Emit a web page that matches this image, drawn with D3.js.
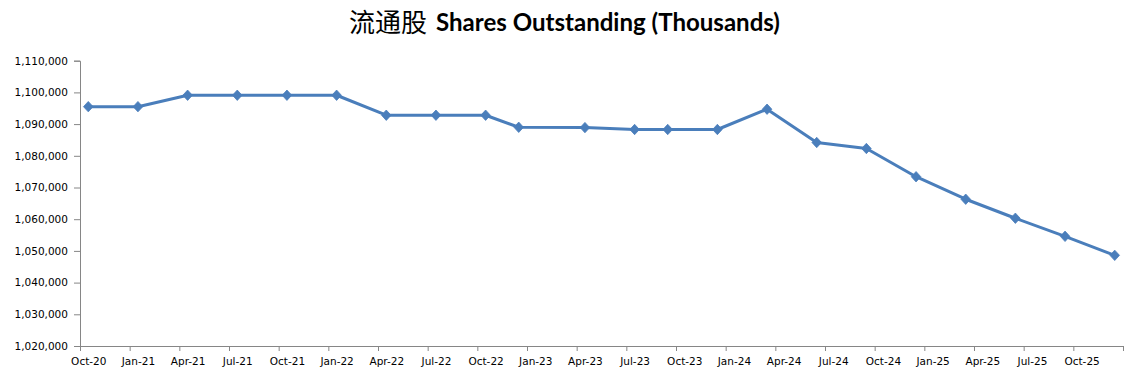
<!DOCTYPE html>
<html><head><meta charset="utf-8">
<script src="https://cdn.jsdelivr.net/npm/d3@7"></script>
<style>
html,body{margin:0;padding:0;background:#fff;}
</style></head>
<body>
<svg id="chart" width="1141" height="381"></svg>
<script>
// Data (month labels "Mon-YY")
const dates = ["Oct-20","Jan-21","Apr-21","Jul-21","Oct-21","Jan-22","Apr-22","Jul-22","Oct-22","Dec-22",
  "Apr-23","Jul-23","Sep-23","Dec-23","Mar-24","Jun-24","Sep-24","Dec-24","Mar-25","Jun-25","Sep-25","Dec-25"];
const shares = [1095500,1095500,1099100,1099100,1099100,1099100,1092800,1092800,1092800,1089000,
  1088900,1088300,1088300,1088300,1094700,1084200,1082300,1073400,1066300,1060300,1054600,1048600];
const xTickLabels = ["Oct-20","Jan-21","Apr-21","Jul-21","Oct-21","Jan-22","Apr-22","Jul-22","Oct-22","Jan-23",
  "Apr-23","Jul-23","Oct-23","Jan-24","Apr-24","Jul-24","Oct-24","Jan-25","Apr-25","Jul-25","Oct-25"];
const axisEnd = "Jan-26";
const yTicks = [1020000,1030000,1040000,1050000,1060000,1070000,1080000,1090000,1100000,1110000];
const titleCN = "流通股";
const titleEN = "Shares Outstanding (Thousands)";

const months = {Jan:0,Feb:1,Mar:2,Apr:3,May:4,Jun:5,Jul:6,Aug:7,Sep:8,Oct:9,Nov:10,Dec:11};
const mIdx = s => { const [m,yy] = s.split("-"); return (2000 + +yy) * 12 + months[m]; };

const svg = d3.select("#chart");
const mLeft = 80, mRight = 1123, mTop = 60.7, mBottom = 346;
const axisColor = "#868686";
const lineColor = "#4A7EBB";

const x = d3.scaleLinear().domain([mIdx(xTickLabels[0]), mIdx(axisEnd)]).range([mLeft, mRight]);
const y = d3.scaleLinear().domain([yTicks[0], yTicks[yTicks.length-1]]).range([mBottom, mTop]);

// Y axis
const yAxis = svg.append("g").attr("transform", `translate(${mLeft},0)`)
  .call(d3.axisLeft(y).tickValues(yTicks).tickFormat(d3.format(",")).tickSizeOuter(0).tickSize(6).tickPadding(6));
yAxis.select(".domain").attr("stroke", axisColor);
yAxis.selectAll(".tick line").attr("stroke", axisColor);
yAxis.selectAll("text").attr("font-family", "'DejaVu Sans', Verdana, sans-serif").attr("font-size", "10.5px").attr("fill", "#000");

// X axis tick marks (month boundaries every quarter, plus end)
const tickVals = xTickLabels.map(mIdx).concat([mIdx(axisEnd)]);
const xAxis = svg.append("g").attr("transform", `translate(0,${mBottom})`)
  .call(d3.axisBottom(x).tickValues(tickVals).tickFormat("").tickSizeOuter(0).tickSize(5));
xAxis.select(".domain").attr("stroke", axisColor);
xAxis.selectAll(".tick line").attr("stroke", axisColor);

// X labels centered in month slot
const xLab = svg.append("g").attr("transform", `translate(0,${mBottom})`)
  .call(d3.axisBottom(x).tickValues(xTickLabels.map(d => mIdx(d) + 0.5))
    .tickFormat((d,i) => xTickLabels[i]).tickSize(0).tickPadding(12));
xLab.select(".domain").remove();
xLab.selectAll("text").attr("font-family", "'DejaVu Sans', Verdana, sans-serif").attr("font-size", "10.5px").attr("fill", "#000");

// Line
const pts = dates.map((d,i) => ({x: mIdx(d) + 0.5, v: shares[i]}));
svg.append("path").datum(pts)
  .attr("fill", "none").attr("stroke", lineColor).attr("stroke-width", 3).attr("stroke-linejoin", "round")
  .attr("d", d3.line().x(d => x(d.x)).y(d => y(d.v)));

// Diamond markers
svg.append("g").selectAll("path").data(pts).join("path")
  .attr("transform", d => `translate(${x(d.x)},${y(d.v)})`)
  .attr("d", "M0,-5.2L4.8,0L0,5.2L-4.8,0Z")
  .attr("fill", lineColor).attr("stroke", lineColor).attr("stroke-width", 0.8);

// Title
function fitText(sel, target) {
  const w = sel.node().getComputedTextLength();
  const fs = parseFloat(sel.attr("font-size"));
  sel.attr("font-size", (fs * target / w).toFixed(2) + "px");
}
const cn = svg.append("text").attr("x", 349).attr("y", 32)
  .attr("font-family", "'Noto Sans CJK SC', sans-serif").attr("font-size", "24px").attr("fill", "#000").text(titleCN);
fitText(cn, 78);
const en = svg.append("text").attr("x", 436).attr("y", 31)
  .attr("font-family", "Lato, 'Open Sans', sans-serif").attr("font-weight", "bold").attr("font-size", "24px").attr("fill", "#000").text(titleEN);
fitText(en, 344);
</script>
</body></html>
